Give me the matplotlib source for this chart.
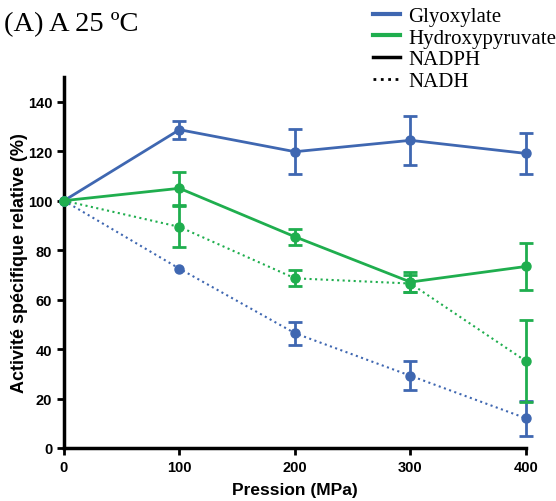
import numpy as np
import matplotlib.pyplot as plt
from matplotlib.lines import Line2D

pression = [0, 100, 200, 300, 400]

glyox_nadph = [100, 128.7, 119.8, 124.4, 119.1]
glyox_nadph_err = [0, 3.7, 9.0, 10.0, 8.3]
glyox_nadh = [100, 72.5, 46.4, 29.2, 12.0]
glyox_nadh_err = [0, 0, 4.7, 5.8, 7.0]

hydroxy_nadph = [100, 105.0, 85.4, 67.1, 73.4]
hydroxy_nadph_err = [0, 6.7, 3.2, 4.0, 9.5]
hydroxy_nadh = [100, 89.4, 68.6, 66.5, 35.1]
hydroxy_nadh_err = [0, 8.3, 3.2, 3.5, 16.5]

blue = '#3f67b1'
green = '#1fae4e'

plt.rcParams['font.family'] = ['Liberation Sans', 'DejaVu Sans']

fig = plt.figure(figsize=(5.56, 5.02), dpi=100)
ax = fig.add_axes([0.115, 0.1056, 0.831, 0.739])

def serie(y, err, color, ls, lw):
    ax.plot(pression, y, color=color, linestyle=ls, linewidth=lw,
            marker='o', markersize=6.5, clip_on=False, zorder=3)
    x = [p for p, e in zip(pression, err) if e > 0]
    yy = [v for v, e in zip(y, err) if e > 0]
    ee = [e for e in err if e > 0]
    ax.errorbar(x, yy, yerr=ee, fmt='none', ecolor=color, capsize=5,
                elinewidth=2, capthick=2, clip_on=False, zorder=3)

serie(glyox_nadh, glyox_nadh_err, blue, ':', 1.5)
serie(hydroxy_nadh, hydroxy_nadh_err, green, ':', 1.5)
serie(glyox_nadph, glyox_nadph_err, blue, '-', 2)
serie(hydroxy_nadph, hydroxy_nadph_err, green, '-', 2)

ax.set_xlim(0, 400)
ax.set_ylim(0, 150)
ax.set_xticks(pression)
ax.set_yticks(np.arange(0, 141, 20))
for s in ['top', 'right']:
    ax.spines[s].set_visible(False)
for s in ['left', 'bottom']:
    ax.spines[s].set_linewidth(2.5)
ax.tick_params(width=2, length=5, labelsize=10.5)
for lab in ax.get_xticklabels() + ax.get_yticklabels():
    lab.set_fontweight('bold')
ax.set_xlabel('Pression (MPa)', fontsize=12.5, fontweight='bold', labelpad=6)
ax.set_ylabel('Activité spécifique relative (%)', fontsize=13, fontweight='bold', labelpad=0)

fig.text(0.008, 0.951, '(A) A 25 ºC', family='Liberation Serif', fontsize=20.5, va='center')

handles = [Line2D([], [], color=blue, lw=3),
           Line2D([], [], color=green, lw=3),
           Line2D([], [], color='black', lw=2.5),
           Line2D([], [], color='black', lw=2, ls=':')]
labels = ['Glyoxylate', 'Hydroxypyruvate', 'NADPH', 'NADH']
fig.legend(handles, labels, loc='upper left', bbox_to_anchor=(0.671, 0.985), frameon=False,
           prop={'family': 'Liberation Serif', 'size': 15}, handlelength=1.3,
           handletextpad=0.4, labelspacing=0.1, borderaxespad=0, borderpad=0)

fig.savefig('out.png', dpi=100)
